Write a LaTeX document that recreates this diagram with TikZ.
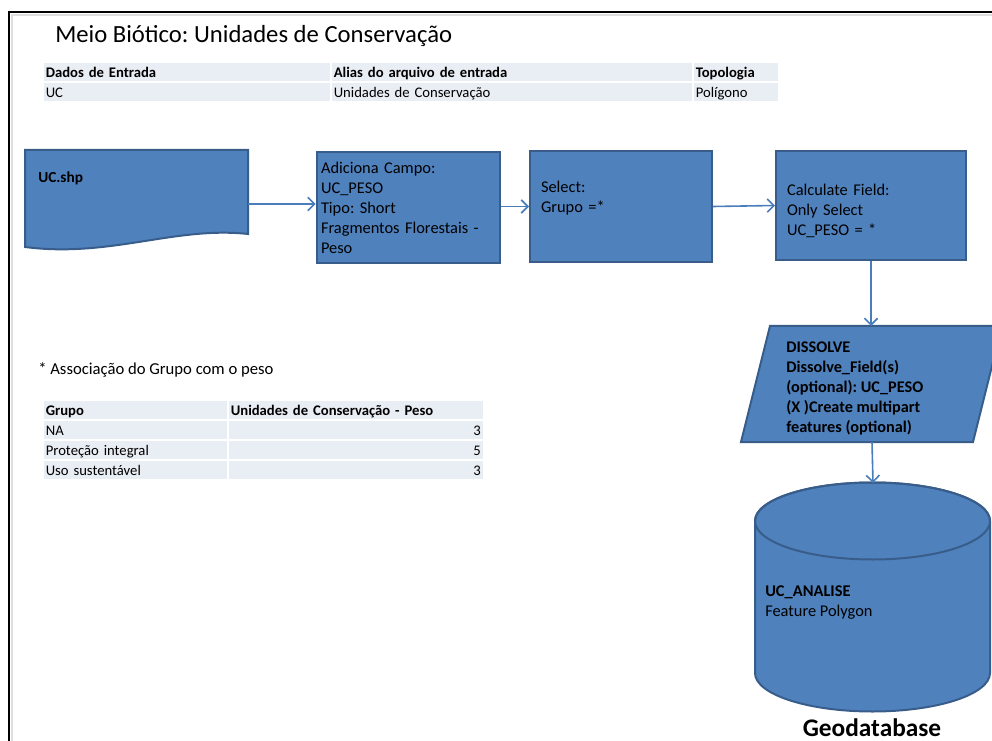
\documentclass[tikz,border=0pt]{standalone}
\usepackage{fontspec}
\setmainfont{Carlito}
\usetikzlibrary{positioning, arrows.meta}
\definecolor{ucblue}{RGB}{79,129,189}
\definecolor{ucedge}{RGB}{56,93,138}
\definecolor{ucarrow}{RGB}{74,126,187}
\definecolor{cellbg}{RGB}{233,237,244}
\frenchspacing

\begin{document}
\begin{tikzpicture}[x=0.75pt, y=-0.75pt,
  box/.style={draw=ucedge, fill=ucblue, line width=1.5pt, align=left, font=\fontsize{12.3}{15}\selectfont},
  flow/.style={draw=ucarrow, line width=1.2pt, -{Straight Barb[length=5pt,width=10pt]}},
  cell/.style={fill=cellbg, draw=white, line width=1.2pt, anchor=north west, inner xsep=2.25pt, inner ysep=0.5pt,
    text height=11.5pt, text depth=2.5pt, text width=#1, align=left, font=\fontsize{11}{12}\selectfont},
  txt/.style={anchor=base west, inner sep=0pt}]
  \useasboundingbox (0,0) rectangle (992,741);
  \draw[gray!25, line width=2pt] (12,741) -- (12,15) -- (992,15);
  \draw[line width=1.5pt] (9,741) -- (9,12) -- (992,12);

  \node[txt, font=\fontsize{18.5}{22}\selectfont] (title) at (55,43) {Meio Biótico: Unidades de Conservação};

  \node[cell=211.5pt] (h1) at (42,61) {\bfseries Dados de Entrada};
  \node[cell=267pt]   (h2) at (330,61) {\bfseries Alias do arquivo de entrada};
  \node[cell=60pt]    (h3) at (692,61) {\bfseries Topologia};
  \node[cell=211.5pt] (r1) at (42,81) {UC};
  \node[cell=267pt]   (r2) at (330,81) {Unidades de Conservação};
  \node[cell=60pt]    (r3) at (692,81) {Polígono};

  \filldraw[draw=ucedge, fill=ucblue, line width=1.5pt] (25,150) -- (248,150) -- (248,234)
    .. controls (175,226) and (110,258) .. (25,247) -- cycle;
  \node[txt, font=\bfseries\fontsize{11.5}{13}\selectfont] (shp) at (38,183) {UC.shp};
  \coordinate (shpout) at (248,204);

  \node[box, minimum width=137.25pt, minimum height=83.25pt, text width=131.25pt] (add) at (408.5,207.5)
    {Adiciona Campo:\\UC\_PESO\\Tipo: Short\\Fragmentos Florestais -\\Peso};
  \node[box, minimum width=136.5pt, minimum height=83.25pt, text width=120pt] (sel) at (621,206.5)
    {Select:\\Grupo =*\\~};
  \node[box, minimum width=142.5pt, minimum height=81.75pt, text width=126pt] (calc) at (871,205.5)
    {\rule{0pt}{16pt}Calculate Field:\\Only Select\\UC\_PESO = *};

  \filldraw[draw=ucedge, fill=ucblue, line width=1.5pt] (770,326) -- (1002,326) -- (973,442) -- (741,442) -- cycle;
  \node[anchor=west, align=left, inner sep=0pt, font=\bfseries\fontsize{12.2}{15}\selectfont] (dissolve) at (786,388)
    {DISSOLVE\\Dissolve\_Field(s)\\(optional): UC\_PESO\\(X )Create multipart\\features (optional)};
  \coordinate (dtop) at (871,326);
  \coordinate (dbot) at (872,442);

  \filldraw[draw=ucedge, fill=ucblue, line width=1.5pt] (755,521) -- (755,673) arc (180:0:117.5 and 38.5)
    -- (990,521) arc (0:-180:117.5 and 38.5) -- cycle;
  \draw[draw=ucedge, line width=1.5pt] (872.5,521) ellipse (117.5 and 38.5);
  \coordinate (gtop) at (873,483);
  \node[txt, align=left, font=\fontsize{12.3}{15}\selectfont] (gdb) at (765,616)
    {\textbf{UC\_ANALISE}\\Feature Polygon};
  \node[anchor=base, inner sep=0pt, font=\bfseries\fontsize{19}{22}\selectfont] (geo) at (872,736) {Geodatabase};

  \draw[flow] (shpout) -- (shpout -| add.west);
  \draw[flow] (add.east |- sel) -- (sel);
  \draw[flow] (sel.east) -- (calc.west);
  \draw[flow] (calc.south) -- (dtop);
  \draw[flow] (dbot) -- (gtop);

  \node[txt, font=\fontsize{12.5}{14}\selectfont] (note) at (38,375) {* Associação do Grupo com o peso};

  \node[cell=134.25pt] (g0) at (42,399) {\bfseries Grupo};
  \node[cell=187.5pt]  (p0) at (227,399) {\bfseries Unidades de Conservação - Peso};
  \node[cell=134.25pt] (g1) at (42,419) {NA};
  \node[cell=187.5pt, align=right] (p1) at (227,419) {3};
  \node[cell=134.25pt] (g2) at (42,439) {Proteção integral};
  \node[cell=187.5pt, align=right] (p2) at (227,439) {5};
  \node[cell=134.25pt] (g3) at (42,459) {Uso sustentável};
  \node[cell=187.5pt, align=right] (p3) at (227,459) {3};
\end{tikzpicture}
\end{document}
